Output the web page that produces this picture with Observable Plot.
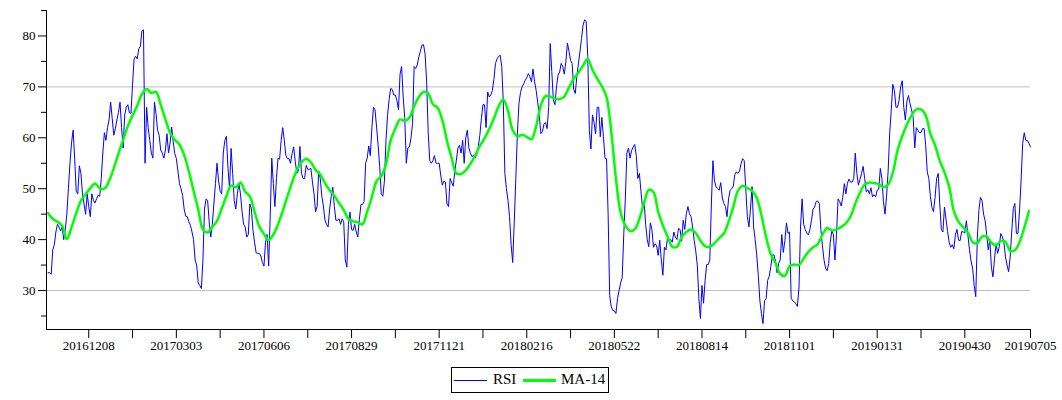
<!DOCTYPE html>
<html><head><meta charset="utf-8">
<script src="https://cdn.jsdelivr.net/npm/d3@7"></script>
<script src="https://cdn.jsdelivr.net/npm/@observablehq/plot@0.6"></script>
<style>
body{margin:0;background:#fff;font-family:"Liberation Serif","Times New Roman",serif;}
#wrap{position:relative;width:1062px;height:400px;background:#fff;}
#chart svg text{font-family:"Liberation Serif","Times New Roman",serif !important;font-size:13px;fill:#000;}
#legend{position:absolute;left:451px;top:367px;width:156px;height:24px;border:1px solid #000;font-size:15px;color:#000;}
#legend .sw{position:absolute;width:33px;height:0;}
#legend .tx{position:absolute;top:3px;line-height:17px;white-space:nowrap;}
</style></head><body>
<div id="wrap"><div id="chart"></div>
<div id="legend">
<span class="sw" style="left:2px;top:12px;border-top:1px solid #0000ff"></span>
<span class="tx" style="left:41px">RSI</span>
<span class="sw" style="left:71px;top:11px;border-top:3px solid #00ff00"></span>
<span class="tx" style="left:109px">MA-14</span>
</div></div>
<script>
// RSI, one value per trading day (index 0..628)
const rsi = [
33.5,33.5,33.2,38,39,41.5,43,42.5,41.7,42.5,
40,42,45,50,55,59,61.5,56,49.5,49,
54.5,53,49,47,45,49,46.5,44.5,49,47.7,
47.2,48,48.7,48.5,52,57,61,59.5,62,63.5,
67,63.8,60.5,61.8,63.5,65,67,62,58,64.5,
66,66.5,64.9,64.8,70.5,75.5,76,75.5,77.5,78,
81,81.2,55,66,62,59.5,57,56,67,64.8,
61.5,60.5,57.6,57,56,57.6,60.8,57,59,62.1,
59.2,56.9,55.9,53.5,51,50,48.7,46,44.6,44.5,
43.5,42.8,41.5,40,36,35,31.5,31,30.4,36,
46,48,47.7,43.5,40.5,43,47,51,55,51.5,
49.5,49,57,59.5,60.3,54,50,57.9,53,47.7,
46,49,51,49,45.5,43,42.5,40.5,41,47,
46,41.8,39.5,37.4,37.3,37.3,36.8,35.5,34.8,39.5,
41,34.8,44.5,56,51,46.5,52,56,55.8,59.5,
62,59.5,56.5,55.9,55.9,55,56.9,58.2,55.4,53,
53.5,58.3,53,52,52,54.6,53.8,53.8,54,51.3,
49,45.5,46.5,53.5,52,48.5,46.6,43.8,43,42.5,
46,48.5,50.3,46.5,43.8,43.8,44.1,43,44.1,43.5,
36,34.6,43,45.4,42,41.8,43,41.5,40.5,44,
46.9,46.9,47.5,55,56,58.4,56.5,62,66,65.5,
62.1,58.5,54.3,49,48.5,51.5,59.5,64.4,67.5,69.7,
69.5,68.4,68.4,67.3,65.5,72.5,74,68,64,55,
58,58.2,60,62.8,74,73.6,74.3,75.9,77,78.2,
78.3,76.5,71,61,55.5,55,55.5,56.5,55,55,
55,52.7,50.7,51.5,51.3,47,46.5,52,51.2,50.5,
53.4,55.6,58,58.5,57,59.5,55,60,61.5,58,
56.9,56.3,56.6,56,56.7,58.2,60.5,63.8,66.5,66.5,
62,69,68,68.4,69.3,71.5,74.6,75.5,76,76.2,
74,67,53,50,47.7,44.5,39,35.5,43.5,52,
60.8,66.7,68.9,70,70.6,71.3,71.8,72.6,72,71,
73.5,71,69.3,67,64.4,60.8,61.2,62.7,63,61.8,
66,78.5,73,67.4,66.5,70,72.3,72.9,74.6,74,
72.5,75,78.6,77,75.2,74.6,69.5,68.7,72,74.5,
76.9,79.5,82.1,83.2,82.8,76,61.5,57.8,64.5,63,
60.8,66,66,60.2,64,60.2,56,55.9,45,29,
26.8,26.1,26,25.5,28.4,30,31.5,32.5,41,48,
57,58,56,57.5,58.2,58.7,56.5,52,53,49.5,
46.2,47.5,43,40,38.6,43.3,42,38.5,39.2,38.8,
36.9,39.9,36,33,38.5,38,40.5,39.7,40,39.5,
41.5,40.5,40,42.2,42,39.7,43.8,42,45.1,46.5,
45.1,44.5,42.5,39.9,37.8,35,28.5,24.5,31,27.5,
32,35.1,35.1,36,47,55.5,51.5,50.4,50,49.7,
51.2,48.2,47.1,46.5,44.5,48,49.7,50,50.5,52.8,
53.3,53,53.5,54.9,55.9,55.5,50,44.5,42.5,46,
50.4,42.5,40,37,33,28,25.5,23.5,28,28.4,
32,32.8,34.7,37,37,35.8,33.5,35.3,36,41,
37.5,39.8,43.3,41.2,41.5,28.5,28,27.8,27.4,26.9,
30.5,42.5,48,43,42,41.3,40.9,42,43.8,46,
46.4,47.5,47.6,47.1,42,38.8,36,34.4,33.9,35.3,
39.5,41.8,41,36,41,48,47.5,46.6,48.3,51,
49,51.1,51.9,51.3,51.3,52,57,53,50.7,51.8,
53,54.4,52,49.4,49.8,49,50.2,48.4,48.8,48.4,
49.7,49.9,54,52,47.5,45,48.5,53.5,61,65.5,
70.5,69.3,66,66,67.4,70,71.2,66,63.5,67.2,
68.3,66.7,65.5,64,58,62,61.5,61,61,61.8,
61.8,58.5,53.3,52,48.5,46.3,45.5,48.3,52,53,
47,42,41.5,46.4,44,41.6,39.5,38.5,39,38.2,
41,42,39.9,39.8,41.6,41.5,41.3,43.7,40.8,38,
35.8,34.4,31,28.8,40.3,45.7,48.3,47.7,45,43.7,
41,38,40,34.6,32.7,36.3,39.2,37.3,38.6,41.2,
40.6,39.4,36.6,35,33.7,36.6,41.5,46.1,47.1,41.2,
41.2,45.8,51.7,58.9,61,59.5,59.5,58.9,58.2
];
// MA-14 read every maStep trading days (index 0, 3, 6, ...)
const maStep = 3;
const ma14 = [
45.2,44.1,43.5,42.7,40.1,42.4,45.2,47.6,48.9,50.1,
51.0,50.1,50.0,51.5,54.0,56.9,59.6,62.3,64.4,66.3,
68.6,69.6,68.8,69.0,66.5,63.6,61.0,59.6,58.7,56.6,
53.4,49.6,45.9,42.0,41.4,42.5,43.7,46.1,48.5,50.6,
50.3,51.2,49.4,48.5,45.5,42.6,41.1,39.9,41.0,43.0,
45.6,48.5,51.3,53.6,55.2,55.9,55.2,53.7,52.8,51.1,
49.7,48.6,47.2,45.8,44.1,43.6,43.4,43.0,45.5,48.4,
51.5,52.5,54.8,59.5,61.8,63.6,63.3,64.0,66.2,68.0,
69.0,68.7,66.6,65.9,63.5,59.4,56.0,53.0,52.9,53.6,
54.9,56.5,58.4,59.9,61.7,63.8,66.2,67.5,65.3,61.5,
60.3,60.6,60.2,59.7,62.3,66.4,68.2,68.1,67.7,67.6,
68.1,69.9,71.6,72.8,74.2,75.5,73.3,71.6,70.1,68.0,
61.2,52.0,45.3,42.8,41.7,42.0,44.1,47.2,49.8,49.3,
45.5,42.8,40.6,38.6,38.6,40.5,41.5,42.0,41.3,39.8,
38.7,38.6,39.3,40.3,41.2,43.5,46.4,49.6,50.6,50.1,
49.6,48.2,44.8,40.5,37.1,35.4,33.3,32.9,34.8,35.1,
35.0,36.3,37.6,38.5,39.1,41.0,42.3,41.8,42.0,42.5,
43.2,44.6,47.1,49.2,50.8,51.2,51.1,50.9,50.3,50.8,
53.2,57.5,60.3,62.6,64.4,65.6,65.6,64.4,60.8,58.5,
55.5,53.2,50.4,45.6,43.5,42.4,41.4,39.5,39.3,40.6,
40.6,39.4,38.9,39.7,39.6,37.8,37.9,39.5,42.3,45.6
];
// x-axis ticks (trading-day index) and their labels
const tickIndex = [26,54,82,110,138,166,194,222,250,278,306,334,362,390,418,446,474,502,530,558,586,628];
const tickLabels = ["20161208","","20170303","","20170606","","20170829","","20171121","","20180216","","20180522","","20180814","","20181101","","20190131","","20190430","20190705"];
const yMajor = [30,40,50,60,70,80];
const yMinor = [25,35,45,55,65,75,85];
const refLevels = [30,70];

const rsiData = rsi.map((v, i) => ({i, v}));
const maData = ma14.map((v, k) => ({i: k * maStep, v}));
const labelOf = new Map(tickIndex.map((d, j) => [d, tickLabels[j]]));
const yMin = 22.35, xMin = -1, xMax = rsi.length - 1;

const chart = Plot.plot({
  width: 1062, height: 360,
  marginTop: 10, marginBottom: 31, marginLeft: 46, marginRight: 32,
  style: {fontFamily: "'Liberation Serif','Times New Roman',serif", fontSize: "13px", color: "#000", background: "#fff"},
  x: {domain: [xMin, xMax], axis: null},
  y: {domain: [yMin, 85], axis: null},
  marks: [
    Plot.ruleY(refLevels, {stroke: "#c0c0c0", strokeWidth: 1}),
    Plot.line(rsiData, {x: "i", y: "v", stroke: "#0000ff", strokeWidth: 1}),
    Plot.line(maData, {x: "i", y: "v", stroke: "#00ff00", strokeWidth: 2.5, curve: "catmull-rom"}),
    Plot.ruleX([xMin], {stroke: "#000"}),
    Plot.ruleY([yMin], {stroke: "#000"}),
    Plot.axisY({ticks: yMajor, tickSize: 8, tickPadding: 3, tickFormat: d => String(d), label: null, stroke: "#000", fill: "#000"}),
    Plot.axisY({ticks: yMinor, tickSize: 5, tickFormat: () => "", label: null, stroke: "#000"}),
    Plot.axisX({ticks: tickIndex, tickSize: 9, tickPadding: 2, tickFormat: d => labelOf.get(d) ?? "", label: null, stroke: "#000", fill: "#000"})
  ]
});
document.getElementById("chart").appendChild(chart);
</script>
</body></html>
